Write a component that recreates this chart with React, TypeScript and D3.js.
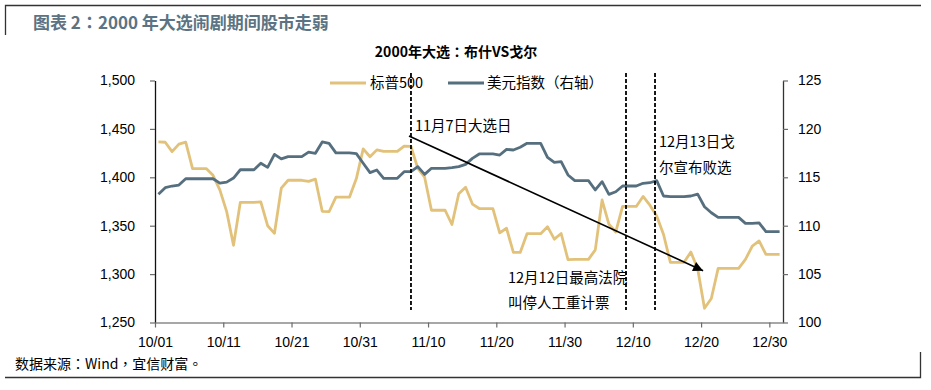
import { useEffect, useRef } from "react";
import * as d3 from "d3";

// daily series, 2000-10-01 .. 2000-12-31, weekends / holidays carry the last close
const startDate = new Date(2000, 9, 1);

const spxOct = [
  1436.51, 1436.23, 1426.46, 1434.32, 1436.28, 1408.99, 1408.99, 1408.99, 1402.03, 1387.02,
  1364.59, 1329.78, 1374.17, 1374.17, 1374.17, 1374.62, 1349.97, 1342.13, 1388.76, 1396.93,
  1396.93, 1396.93, 1395.78, 1398.13, 1364.9, 1364.44, 1379.58, 1379.58, 1379.58, 1398.66,
  1429.4,
];
const spxNov = [
  1421.22, 1428.32, 1426.69, 1426.69, 1426.69, 1432.19, 1431.87, 1409.28, 1400.14, 1365.98,
  1365.98, 1365.98, 1351.26, 1382.95, 1389.81, 1372.32, 1367.72, 1367.72, 1367.72, 1342.62,
  1347.35, 1322.36, 1322.36, 1341.77, 1341.77, 1341.77, 1348.97, 1336.09, 1341.93, 1314.95,
];
const spxDec = [
  1315.23, 1315.23, 1315.23, 1324.97, 1376.54, 1351.46, 1343.55, 1369.89, 1369.89, 1369.89,
  1380.2, 1371.18, 1359.99, 1340.93, 1312.15, 1312.15, 1312.15, 1322.74, 1305.6, 1264.74,
  1274.86, 1305.95, 1305.95, 1305.95, 1305.95, 1315.19, 1328.92, 1334.22, 1320.28, 1320.28,
  1320.28,
];

const dxyOct = [
  113.24, 113.93, 114.1, 114.2, 114.85, 114.85, 114.85, 114.85, 114.85, 114.4,
  114.5, 114.92, 115.78, 115.78, 115.78, 116.45, 116.03, 117.37, 116.9, 117.13,
  117.13, 117.13, 117.6, 117.48, 118.65, 118.51, 117.52, 117.52, 117.52, 117.45,
  116.45,
];
const dxyNov = [
  115.48, 115.75, 114.89, 114.89, 114.89, 115.58, 115.58, 116.1, 115.3, 115.93,
  115.93, 115.93, 116.0, 116.1, 116.34, 116.96, 117.41, 117.41, 117.41, 117.3,
  117.89, 117.82, 118.1, 118.51, 118.51, 118.51, 117.07, 116.55, 116.62, 115.24,
];
const dxyDec = [
  114.65, 114.65, 114.65, 113.69, 114.55, 113.24, 113.51, 114.1, 114.1, 114.1,
  114.38, 114.44, 114.65, 113.07, 113.0, 113.0, 113.0, 113.07, 113.27, 111.96,
  111.34, 110.86, 110.86, 110.86, 110.86, 110.24, 110.24, 110.3, 109.38, 109.38,
  109.38,
];

const leftTicks = [1250, 1300, 1350, 1400, 1450, 1500];
const rightTicks = [100, 105, 110, 115, 120, 125];
const xTickDates = [
  new Date(2000, 9, 1), new Date(2000, 9, 11), new Date(2000, 9, 21), new Date(2000, 9, 31),
  new Date(2000, 10, 10), new Date(2000, 10, 20), new Date(2000, 10, 30),
  new Date(2000, 11, 10), new Date(2000, 11, 20), new Date(2000, 11, 30),
];

const seriesNames = ["标普500", "美元指数（右轴）"];
const seriesColors = ["#e2c27a", "#566f7e"];

// annotation marks (dates where the dashed lines sit) and their captions
const eventDates = [new Date(2000, 10, 7, 12), new Date(2000, 11, 9, 0), new Date(2000, 11, 13, 6)];
const arrowFrom = { date: new Date(2000, 10, 7, 5), value: 1442.7 };
const arrowTo = { date: new Date(2000, 11, 20, 7), value: 1303.5 };

const FONT = "'Liberation Sans', 'Noto Sans CJK SC', sans-serif";
const CJK = "'Noto Sans CJK SC', 'Liberation Sans', sans-serif";
// TC face centres full-width punctuation like the original
const CJK_TC = "'Noto Sans CJK TC', 'Noto Sans CJK SC', sans-serif";

function Chart() {
  const svgRef = useRef<SVGSVGElement>(null);
  const width = 931;
  const height = 390;

  useEffect(() => {
    if (!svgRef.current) return;
    const svg = d3.select(svgRef.current);
    svg.selectAll("*").remove();

    const plot = { left: 155, right: 783, top: 80.5, bottom: 322.5 };

    const days = d3.range(92).map((i) => d3.timeDay.offset(startDate, i));
    const spx = [...spxOct, ...spxNov, ...spxDec];
    const dxy = [...dxyOct, ...dxyNov, ...dxyDec];

    const x = d3
      .scaleTime()
      .domain([startDate, new Date(2001, 0, 1)])
      .range([plot.left, plot.right]);
    const yL = d3.scaleLinear().domain([1250, 1500]).range([plot.bottom, plot.top]);
    const yR = d3.scaleLinear().domain([100, 125]).range([plot.bottom, plot.top]);

    // points sit in the middle of each day slot
    const mid = (d: Date) => x(d3.timeHour.offset(d, 12));

    // frame + header
    svg.append("path")
      .attr("d", "M5.5,35 V5.5 H921")
      .attr("fill", "none")
      .attr("stroke", "#333")
      .attr("stroke-width", 1.3);
    svg.append("path")
      .attr("d", "M5,377.5 H920.5 V352")
      .attr("fill", "none")
      .attr("stroke", "#333")
      .attr("stroke-width", 1.3);

    svg.append("text")
      .attr("x", 33)
      .attr("y", 29)
      .attr("font-family", CJK_TC)
      .attr("font-size", 17)
      .attr("font-weight", "bold")
      .attr("fill", "#5b7383")
      .text("图表 2：2000 年大选闹剧期间股市走弱");

    svg.append("text")
      .attr("x", 456)
      .attr("y", 57)
      .attr("text-anchor", "middle")
      .attr("font-family", CJK_TC)
      .attr("font-size", 14)
      .attr("font-weight", "bold")
      .attr("fill", "#000")
      .text("2000年大选：布什VS戈尔");

    // legend
    const legendItems = [
      { x: 330, textX: 370 },
      { x: 448, textX: 487 },
    ];
    legendItems.forEach((item, i) => {
      svg.append("line")
        .attr("x1", item.x)
        .attr("x2", item.x + 36)
        .attr("y1", 83)
        .attr("y2", 83)
        .attr("stroke", seriesColors[i])
        .attr("stroke-width", 3);
      svg.append("text")
        .attr("x", item.textX)
        .attr("y", 88)
        .attr("font-family", CJK)
        .attr("font-size", 14.5)
        .attr("fill", "#000")
        .text(seriesNames[i]);
    });

    // axes
    const left = svg.append("g")
      .attr("transform", `translate(${plot.left},0)`)
      .call(
        d3.axisLeft(yL)
          .tickValues(leftTicks)
          .tickFormat(d3.format(","))
          .tickSize(5)
          .tickSizeOuter(0)
          .tickPadding(15)
      );
    const right = svg.append("g")
      .attr("transform", `translate(${plot.right},0)`)
      .call(
        d3.axisRight(yR)
          .tickValues(rightTicks)
          .tickSize(5)
          .tickSizeOuter(0)
          .tickPadding(10)
      );
    const bottom = svg.append("g")
      .attr("transform", `translate(0,${plot.bottom})`)
      .call(
        d3.axisBottom(x)
          .tickValues(xTickDates)
          .tickFormat(d3.timeFormat("%m/%d") as any)
          .tickSize(5)
          .tickSizeOuter(0)
          .tickPadding(10)
      );

    [left, right, bottom].forEach((g) => {
      g.selectAll("text")
        .attr("font-family", FONT)
        .attr("font-size", 14)
        .attr("fill", "#000");
      g.selectAll(".tick line").attr("stroke", "#6b6b6b").attr("stroke-width", 1.2);
    });
    left.select(".domain").attr("stroke", "#111").attr("stroke-width", 1.3);
    right.select(".domain").attr("stroke", "#333").attr("stroke-width", 1.3);
    bottom.select(".domain").attr("stroke", "#8a8a8a").attr("stroke-width", 1.3);

    // series
    const spxLine = d3.line<number>()
      .x((_, i) => mid(days[i]))
      .y((v) => yL(v));
    const dxyLine = d3.line<number>()
      .x((_, i) => mid(days[i]))
      .y((v) => yR(v));

    svg.append("path")
      .datum(spx)
      .attr("d", spxLine)
      .attr("fill", "none")
      .attr("stroke", seriesColors[0])
      .attr("stroke-width", 2.8)
      .attr("stroke-linejoin", "round");
    svg.append("path")
      .datum(dxy)
      .attr("d", dxyLine)
      .attr("fill", "none")
      .attr("stroke", seriesColors[1])
      .attr("stroke-width", 2.8)
      .attr("stroke-linejoin", "round");

    // event markers
    svg.selectAll(".event")
      .data(eventDates)
      .enter()
      .append("line")
      .attr("class", "event")
      .attr("x1", (d) => x(d))
      .attr("x2", (d) => x(d))
      .attr("y1", 73)
      .attr("y2", 310)
      .attr("stroke", "#000")
      .attr("stroke-width", 1.8)
      .attr("stroke-dasharray", "4,2");

    // arrow
    const defs = svg.append("defs");
    defs.append("marker")
      .attr("id", "arrowhead")
      .attr("viewBox", "0 0 10 10")
      .attr("refX", 10)
      .attr("refY", 5)
      .attr("markerWidth", 11)
      .attr("markerHeight", 10)
      .attr("markerUnits", "userSpaceOnUse")
      .attr("orient", "auto")
      .append("path")
      .attr("d", "M0,0 L10,5 L0,10 Z")
      .attr("fill", "#000");
    svg.append("line")
      .attr("x1", x(arrowFrom.date))
      .attr("y1", yL(arrowFrom.value))
      .attr("x2", x(arrowTo.date))
      .attr("y2", yL(arrowTo.value))
      .attr("stroke", "#000")
      .attr("stroke-width", 1.6)
      .attr("marker-end", "url(#arrowhead)");

    // captions
    const captions = [
      { x: x(eventDates[0]) + 4, y: 131, text: "11月7日大选日" },
      { x: x(eventDates[2]) + 4, y: 147, text: "12月13日戈" },
      { x: x(eventDates[2]) + 4, y: 173, text: "尔宣布败选" },
      { x: 508, y: 283, text: "12月12日最高法院" },
      { x: 508, y: 308, text: "叫停人工重计票" },
    ];
    svg.selectAll(".caption")
      .data(captions)
      .enter()
      .append("text")
      .attr("class", "caption")
      .attr("x", (d) => d.x)
      .attr("y", (d) => d.y)
      .attr("font-family", CJK)
      .attr("font-size", 14.5)
      .attr("fill", "#000")
      .text((d) => d.text);

    // source
    svg.append("text")
      .attr("x", 15)
      .attr("y", 369)
      .attr("font-family", CJK_TC)
      .attr("font-size", 14)
      .attr("fill", "#000")
      .text("数据来源：Wind，宜信财富。");

    return () => {
      svg.selectAll("*").remove();
    };
  }, []);

  return <svg ref={svgRef} width={width} height={height} style={{ display: "block" }} />;
}

export default function App() {
  return (
    <div style={{ position: "fixed", left: 0, top: 0, width: 931, height: 390, background: "#fff" }}>
      <Chart />
    </div>
  );
}
